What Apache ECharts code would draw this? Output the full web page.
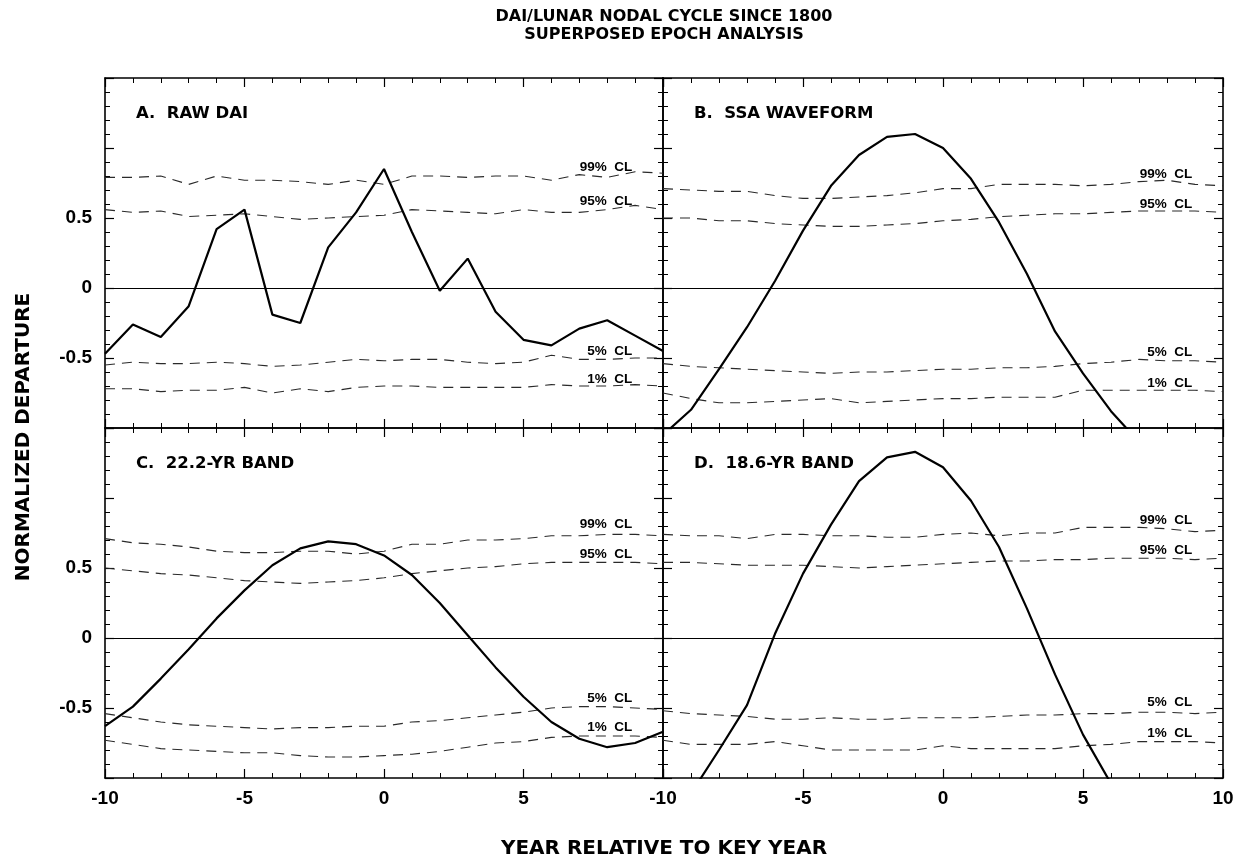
<!DOCTYPE html>
<html><head><meta charset="utf-8">
<script src="https://cdn.jsdelivr.net/npm/echarts@6/dist/echarts.min.js"></script>
<style>html,body{margin:0;padding:0;background:#fff}#c{width:1243px;height:862px}</style>
</head><body><div id="c"></div>
<script>
// ---------------- data ----------------
const years = [-10,-9,-8,-7,-6,-5,-4,-3,-2,-1,0,1,2,3,4,5,6,7,8,9,10];

const rawDai   = [-0.47,-0.26,-0.35,-0.13,0.42,0.56,-0.19,-0.25,0.29,0.54,0.85,0.40,-0.02,0.21,-0.17,-0.37,-0.41,-0.29,-0.23,-0.34,-0.45];
const rawDai99 = [0.79,0.79,0.80,0.74,0.80,0.77,0.77,0.76,0.74,0.77,0.74,0.80,0.80,0.79,0.80,0.80,0.77,0.81,0.79,0.83,0.82];
const rawDai95 = [0.56,0.54,0.55,0.51,0.52,0.53,0.51,0.49,0.50,0.51,0.52,0.56,0.55,0.54,0.53,0.56,0.54,0.54,0.56,0.59,0.56];
const rawDai5  = [-0.55,-0.53,-0.54,-0.54,-0.53,-0.54,-0.56,-0.55,-0.53,-0.51,-0.52,-0.51,-0.51,-0.53,-0.54,-0.53,-0.48,-0.51,-0.51,-0.50,-0.50];
const rawDai1  = [-0.72,-0.72,-0.74,-0.73,-0.73,-0.71,-0.75,-0.72,-0.74,-0.71,-0.70,-0.70,-0.71,-0.71,-0.71,-0.71,-0.69,-0.70,-0.70,-0.69,-0.70];

const ssa   = [-1.05,-0.87,-0.58,-0.28,0.05,0.41,0.73,0.95,1.08,1.10,1.00,0.78,0.47,0.10,-0.31,-0.61,-0.88,-1.10,null,null,null];
const ssa99 = [0.71,0.70,0.69,0.69,0.66,0.64,0.64,0.65,0.66,0.68,0.71,0.71,0.74,0.74,0.74,0.73,0.74,0.76,0.77,0.74,0.73];
const ssa95 = [0.50,0.50,0.48,0.48,0.46,0.45,0.44,0.44,0.45,0.46,0.48,0.49,0.51,0.52,0.53,0.53,0.54,0.55,0.55,0.55,0.54];
const ssa5  = [-0.54,-0.56,-0.57,-0.58,-0.59,-0.60,-0.61,-0.60,-0.60,-0.59,-0.58,-0.58,-0.57,-0.57,-0.56,-0.54,-0.53,-0.51,-0.52,-0.52,-0.53];
const ssa1  = [-0.75,-0.79,-0.82,-0.82,-0.81,-0.80,-0.79,-0.82,-0.81,-0.80,-0.79,-0.79,-0.78,-0.78,-0.78,-0.73,-0.73,-0.73,-0.73,-0.73,-0.74];

const band222    = [-0.63,-0.49,-0.29,-0.08,0.14,0.34,0.52,0.64,0.69,0.67,0.59,0.45,0.25,0.02,-0.21,-0.42,-0.60,-0.72,-0.78,-0.75,-0.67];
const band222_99 = [0.71,0.68,0.67,0.65,0.62,0.61,0.61,0.62,0.62,0.60,0.62,0.67,0.67,0.70,0.70,0.71,0.73,0.73,0.74,0.74,0.73];
const band222_95 = [0.50,0.48,0.46,0.45,0.43,0.41,0.40,0.39,0.40,0.41,0.43,0.46,0.48,0.50,0.51,0.53,0.54,0.54,0.54,0.54,0.53];
const band222_5  = [-0.54,-0.57,-0.60,-0.62,-0.63,-0.64,-0.65,-0.64,-0.64,-0.63,-0.63,-0.60,-0.59,-0.57,-0.55,-0.53,-0.50,-0.49,-0.49,-0.50,-0.51];
const band222_1  = [-0.73,-0.76,-0.79,-0.80,-0.81,-0.82,-0.82,-0.84,-0.85,-0.85,-0.84,-0.83,-0.81,-0.78,-0.75,-0.74,-0.71,-0.70,-0.70,-0.70,-0.71];

const band186    = [null,-1.11,-0.80,-0.48,0.03,0.46,0.81,1.12,1.29,1.33,1.22,0.98,0.65,0.21,-0.26,-0.69,-1.04,null,null,null,null];
const band186_99 = [0.74,0.73,0.73,0.71,0.74,0.74,0.73,0.73,0.72,0.72,0.74,0.75,0.73,0.75,0.75,0.79,0.79,0.79,0.78,0.76,0.77];
const band186_95 = [0.54,0.54,0.53,0.52,0.52,0.52,0.51,0.50,0.51,0.52,0.53,0.54,0.55,0.55,0.56,0.56,0.57,0.57,0.57,0.56,0.57];
const band186_5  = [-0.52,-0.54,-0.55,-0.56,-0.58,-0.58,-0.57,-0.58,-0.58,-0.57,-0.57,-0.57,-0.56,-0.55,-0.55,-0.54,-0.54,-0.53,-0.53,-0.54,-0.53];
const band186_1  = [-0.73,-0.76,-0.76,-0.76,-0.74,-0.77,-0.80,-0.80,-0.80,-0.80,-0.77,-0.79,-0.79,-0.79,-0.79,-0.77,-0.76,-0.74,-0.74,-0.74,-0.75];

const panelTitles = ['A.  RAW DAI', 'B.  SSA WAVEFORM', 'C.  22.2-YR BAND', 'D.  18.6-YR BAND'];
const clNames = ['99%  CL', '95%  CL', '5%  CL', '1%  CL'];
const yTickLabels = ['-0.5', '0', '0.5'];
const xTickLabelsC = ['-10', '-5', '0', '5'];
const xTickLabelsD = ['-10', '-5', '0', '5', '10'];
const titleLines = ['DAI/LUNAR NODAL CYCLE SINCE 1800', 'SUPERPOSED EPOCH ANALYSIS'];
const yName = 'NORMALIZED DEPARTURE';
const xName = 'YEAR RELATIVE TO KEY YEAR';

// ---------------- layout ----------------
const FONT = "'Liberation Sans', Arial, Helvetica, sans-serif";
const WIDE = "'DejaVu Sans', Verdana, sans-serif";
const GRIDS = [
  {left: 105, top: 78, width: 558, height: 350},
  {left: 663, top: 78, width: 560, height: 350},
  {left: 105, top: 428, width: 558, height: 350},
  {left: 663, top: 428, width: 560, height: 350}
];
// where the CL captions sit (data units, right edge at x = 8.9)
const clLabelAnchor = [
  [0.86, 0.62, -0.45, -0.65],
  [0.81, 0.60, -0.46, -0.68],
  [0.81, 0.60, -0.43, -0.64],
  [0.84, 0.63, -0.46, -0.68]
];
const panels = [
  {solid: rawDai, cls: [rawDai99, rawDai95, rawDai5, rawDai1]},
  {solid: ssa, cls: [ssa99, ssa95, ssa5, ssa1]},
  {solid: band222, cls: [band222_99, band222_95, band222_5, band222_1]},
  {solid: band186, cls: [band186_99, band186_95, band186_5, band186_1]}
];

const pair = arr => years.map((x, i) => [x, arr[i]]);

const xAxes = [], yAxes = [], series = [];
GRIDS.forEach((g, gi) => {
  const bottomRow = gi >= 2;
  const xLabels = gi === 2 ? xTickLabelsC : xTickLabelsD;
  ['bottom', 'top'].forEach(pos => {
    xAxes.push({
      gridIndex: gi, type: 'value', min: -10, max: 10, interval: 5, position: pos,
      axisLine: {show: true, onZero: false, lineStyle: {color: '#000', width: 1.6}},
      axisTick: {show: true, inside: true, length: 9, lineStyle: {color: '#000', width: 1.2}},
      minorTick: {show: true, splitNumber: 5, length: 5, lineStyle: {color: '#000', width: 1}},
      splitLine: {show: false},
      axisLabel: {
        show: pos === 'bottom' && bottomRow, margin: 11,
        color: '#000', fontFamily: FONT, fontWeight: 'bold', fontSize: 19,
        formatter: v => xLabels.includes(String(v)) ? String(v) : '',
        showMinLabel: true, showMaxLabel: true
      }
    });
  });
  ['left', 'right'].forEach(pos => {
    yAxes.push({
      gridIndex: gi, type: 'value', min: -1, max: 1.5, interval: 0.5, position: pos,
      axisLine: {show: true, onZero: false, lineStyle: {color: '#000', width: 1.6}},
      axisTick: {show: true, inside: true, length: 9, lineStyle: {color: '#000', width: 1.2}},
      minorTick: {show: true, splitNumber: 5, length: 5, lineStyle: {color: '#000', width: 1}},
      splitLine: {show: false},
      axisLabel: {
        show: pos === 'left' && (gi === 0 || gi === 2), margin: 13,
        color: '#000', fontFamily: FONT, fontWeight: 'bold', fontSize: 19,
        formatter: v => yTickLabels.includes(String(v)) ? String(v) : ''
      }
    });
  });
  const p = panels[gi];
  p.cls.forEach(arr => {
    series.push({
      type: 'line', xAxisIndex: 2 * gi, yAxisIndex: 2 * gi, data: pair(arr),
      symbol: 'none', silent: true, animation: false, z: 2,
      lineStyle: {color: '#2a2a2a', width: 1.1, type: [10, 7]}
    });
  });
  series.push({
    type: 'line', xAxisIndex: 2 * gi, yAxisIndex: 2 * gi, data: pair(p.solid),
    symbol: 'none', silent: true, animation: false, clip: true, z: 3, connectNulls: false,
    lineStyle: {color: '#000', width: 2.2},
    markLine: {
      silent: true, symbol: 'none', animation: false, label: {show: false},
      lineStyle: {color: '#000', width: 1.1, type: 'solid'},
      data: [{yAxis: 0}]
    }
  });
});

const chart = echarts.init(document.getElementById('c'), null, {renderer: 'canvas'});
chart.setOption({
  backgroundColor: '#fff',
  animation: false,
  grid: GRIDS.map(g => Object.assign({containLabel: false}, g)),
  xAxis: xAxes, yAxis: yAxes, series: series
});

// ---------------- text annotations ----------------
const graphics = [];
const txt = (text, x, y, font, align, extra) => Object.assign({
  type: 'text', x: x, y: y, silent: true,
  style: {text: text, fill: '#000', font: font, textAlign: align || 'left', textVerticalAlign: 'middle'}
}, extra || {});

const plotCenter = GRIDS[0].left + (GRIDS[1].left + GRIDS[1].width - GRIDS[0].left) / 2;
graphics.push(txt(titleLines[0], plotCenter, 17, 'bold 16px ' + WIDE, 'center'));
graphics.push(txt(titleLines[1], plotCenter, 35, 'bold 16px ' + WIDE, 'center'));
graphics.push(txt(xName, plotCenter, 849, 'bold 20px ' + WIDE, 'center'));
graphics.push(txt(yName, 24, 437, 'bold 20px ' + WIDE, 'center', {rotation: Math.PI / 2}));

GRIDS.forEach((g, gi) => {
  graphics.push(txt(panelTitles[gi], g.left + 31, g.top + 36, 'bold 16.5px ' + WIDE, 'left'));
  clNames.forEach((name, k) => {
    const pt = chart.convertToPixel({xAxisIndex: 2 * gi, yAxisIndex: 2 * gi}, [8.9, clLabelAnchor[gi][k]]);
    graphics.push(txt(name, pt[0], pt[1], 'bold 13.5px ' + FONT, 'right'));
  });
});
chart.setOption({graphic: graphics});
</script>
</body></html>
